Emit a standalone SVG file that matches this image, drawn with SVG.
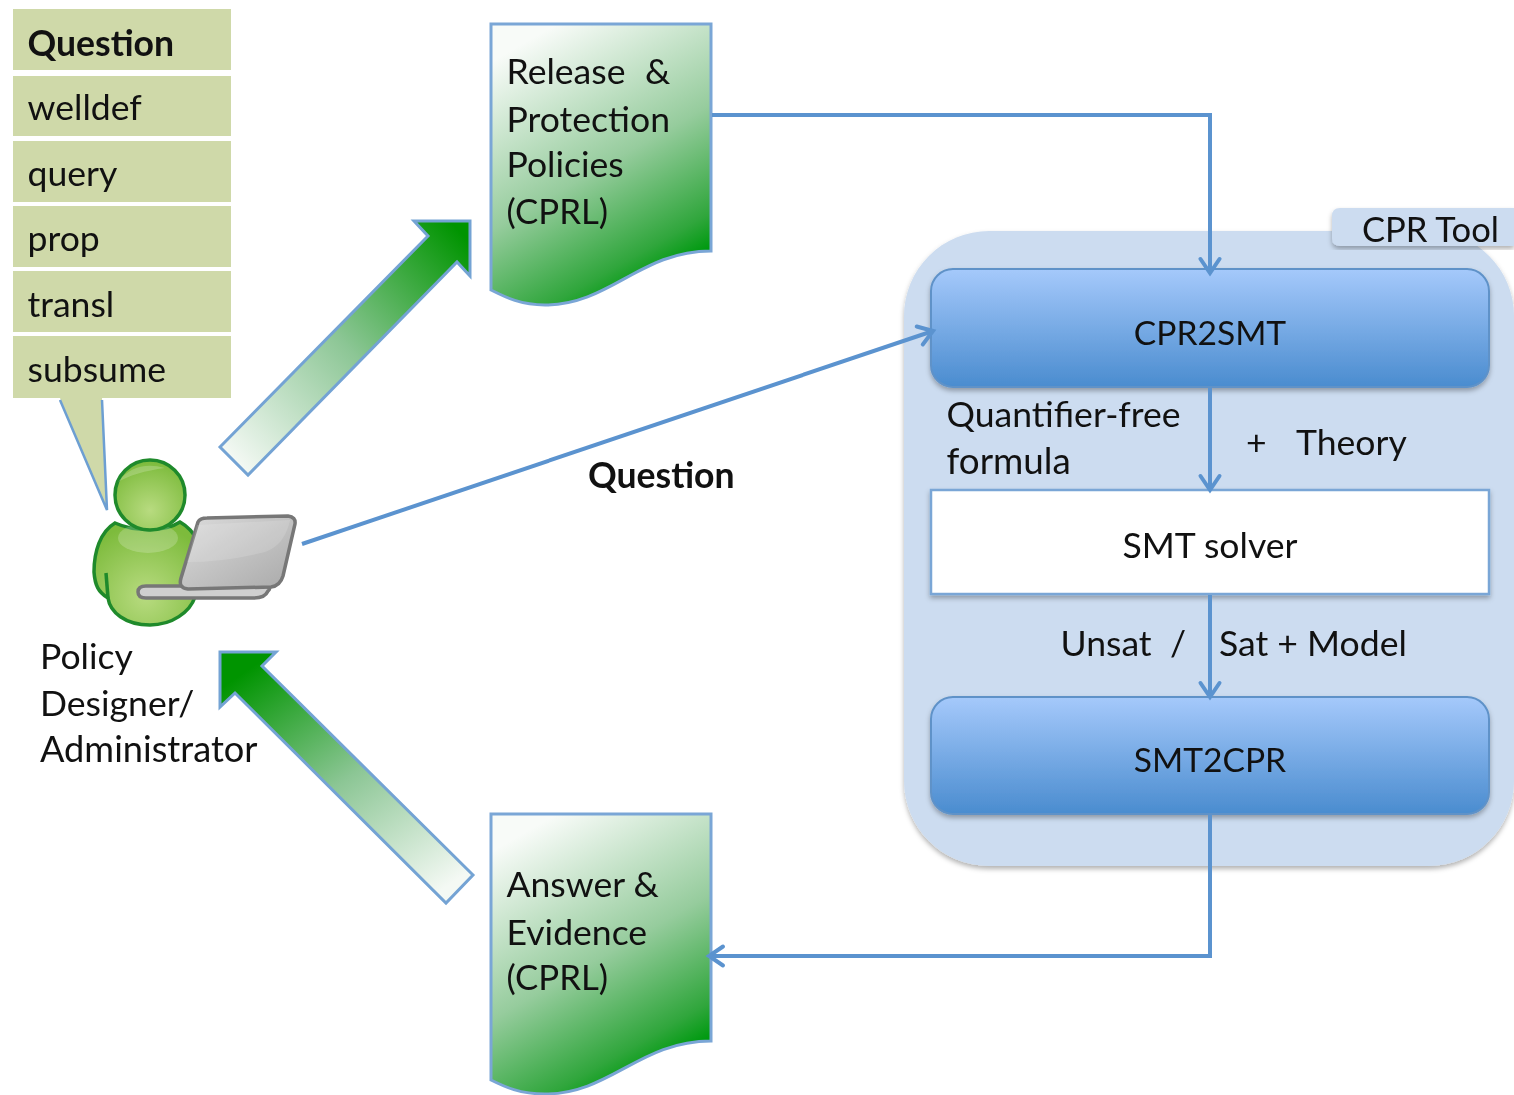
<svg xmlns="http://www.w3.org/2000/svg" width="1514" height="1095" viewBox="0 0 1514 1095">
<style>
text{font-family:"Lato","Open Sans","Liberation Sans",sans-serif;font-size:35.6px;fill:#111}
.b{font-weight:700}
.m{text-anchor:middle}
.t{font-size:33.6px}
.c{font-size:34.8px}
.q{fill:#cfd9a9}
.doc{fill:url(#gd);stroke:#7aa6d6;stroke-width:3}
.ar{stroke:#5b93cf;stroke-width:4px;fill:none}
.big{stroke:#74a3d4;stroke-width:3}
.bl{fill:url(#gb);stroke:#5f92c8;stroke-width:2;filter:url(#sh)}
.gs{stroke:#1f8a2b;stroke-width:3.5}
</style>
<defs>
<linearGradient id="gd" x1=".3" y1="0" x2=".75" y2="1"><stop offset="0" stop-color="#f8fbf8"/><stop offset=".5" stop-color="#96cc9d"/><stop offset=".82" stop-color="#30a63c"/><stop offset=".92" stop-color="#009a10"/></linearGradient>
<linearGradient id="gb" x1="0" y1="0" x2="0" y2="1"><stop offset="0" stop-color="#a5c9fb"/><stop offset="1" stop-color="#4a8ccf"/></linearGradient>
<linearGradient id="ga1" gradientUnits="userSpaceOnUse" x1="235" y1="462" x2="468" y2="240"><stop offset="0" stop-color="#f4f9f4"/><stop offset=".5" stop-color="#8cc695"/><stop offset="1" stop-color="#009400"/></linearGradient>
<linearGradient id="ga2" gradientUnits="userSpaceOnUse" x1="420" y1="905" x2="255" y2="665"><stop offset="0" stop-color="#f4f9f4"/><stop offset=".5" stop-color="#8cc695"/><stop offset="1" stop-color="#009400"/></linearGradient>
<radialGradient id="gg" cx=".5" cy=".72" r=".7"><stop offset="0" stop-color="#b8db80"/><stop offset="1" stop-color="#7dbb3c"/></radialGradient>
<linearGradient id="gl" x1="0" y1="0" x2="1" y2="1"><stop offset="0" stop-color="#dcdcdc"/><stop offset="1" stop-color="#a9a9a9"/></linearGradient>
<filter id="sh" x="-5%" y="-5%" width="110%" height="115%"><feDropShadow dx="0" dy="3" stdDeviation="2.5" flood-color="#000" flood-opacity=".3"/></filter>
<filter id="soft" x="0" y="0" width="100%" height="100%" color-interpolation-filters="sRGB"><feGaussianBlur stdDeviation=".7"/></filter>
<marker id="ah" markerUnits="userSpaceOnUse" markerWidth="26" markerHeight="26" refX="20" refY="13" orient="auto"><path d="M6 3.5L20 13L6 22.5" fill="none" stroke="#5b93cf" stroke-width="4" stroke-linecap="round"/></marker>
</defs>
<g filter="url(#soft)">
<rect width="1514" height="1095" fill="#fff"/>
<g id="tool-panel">
<rect x="904" y="231" width="610" height="635" rx="85" fill="#ccdcf0" filter="url(#sh)"/>
</g>
<g id="tool-tab">
<path d="M1514 208H1340Q1332 208 1332 216V238Q1332 246 1340 246H1514Z" fill="#ccdcf0" filter="url(#sh)"/>
<text x="1362" y="242" style="font-size:34.6px">CPR Tool</text>
</g>

<g id="question-list">
<path d="M60 398L107 510L102 398Z" class="q"/>
<path d="M60 400L107 510L102 400" fill="none" stroke="#6d9fd2" stroke-width="2.5"/>
<rect class="q" x="13" y="9" width="218" height="61"/>
<rect class="q" x="13" y="76" width="218" height="60"/>
<rect class="q" x="13" y="141" width="218" height="61"/>
<rect class="q" x="13" y="206" width="218" height="61"/>
<rect class="q" x="13" y="271" width="218" height="61"/>
<rect class="q" x="13" y="336" width="218" height="62"/>
<text class="b" x="27.5" y="56">Question</text>
<text x="27.5" y="120">welldef</text>
<text x="27.5" y="186">query</text>
<text x="27.5" y="251">prop</text>
<text x="27.5" y="317">transl</text>
<text x="27.5" y="382">subsume</text>
</g>

<g id="user">
<path class="gs" d="M115 523C100 532 94 552 94 572C95 585 98 592 108 598C110 612 125 625 150 625C172 625 190 612 195 597L197 540C193 532 187 526 180 522C165 532 135 532 115 523Z" fill="url(#gg)"/>
<path class="gs" d="M106 573L108 598" fill="none"/>
<ellipse cx="148" cy="538" rx="30" ry="15" fill="#fff" opacity=".2"/>
<circle class="gs" cx="150" cy="495" r="35" fill="url(#gg)"/>
<path d="M118 482Q135 460 165 468Q135 472 118 482Z" fill="#fff" opacity=".2"/>
<path d="M146 586H266Q272 588 268 591Q265 598 254 598H146Q138 598 138 592Q138 586 146 586Z" fill="#cfcfcf" stroke="#777" stroke-width="3.5"/>
<path d="M198 522Q200 518 207 518L288 516Q296 517 295 524L283 576Q280 586 271 587L188 589Q178 588 181 578Z" fill="url(#gl)" stroke="#777" stroke-width="3.5"/>
<path d="M197 525L290 520Q285 545 265 552Q225 562 187 562Z" fill="#fff" opacity=".14"/>
</g>
<text x="40" y="669">Policy</text>
<text x="40" y="716">Designer/</text>
<text x="40" y="762" style="font-size:36.2px">Administrator</text>

<g id="arrow-up"><path class="big" fill="url(#ga1)" d="M220 447L428 236L414 221H470V276L457 262L248 475Z"/></g>
<g id="arrow-down"><path class="big" fill="url(#ga2)" d="M473 875L262 666L276 652H220V707L235 693L446 903Z"/></g>

<g id="doc-policies">
<path class="doc" d="M491 24H711V251C640 251 610 305 545 305C520 305 505 297 491 290Z"/>
<text x="506.5" y="84">Release<tspan x="645">&amp;</tspan></text>
<text x="506.5" y="132">Protection</text>
<text x="506.5" y="177">Policies</text>
<text class="c" x="506.5" y="224">(CPRL)</text>
</g>
<g id="doc-answer">
<path class="doc" d="M491 814H711V1041C640 1041 610 1094 545 1094C520 1094 505 1087 491 1080Z"/>
<text x="506.5" y="897">Answer &amp;</text>
<text x="506.5" y="945">Evidence</text>
<text class="c" x="506.5" y="990">(CPRL)</text>
</g>

<g id="cpr2smt"><rect class="bl" x="931" y="269" width="558" height="118" rx="22"/><text class="m t" x="1210" y="345">CPR2SMT</text></g>
<g id="smt-solver"><rect x="931" y="490" width="558" height="104" fill="#fff" stroke="#7aa6d6" stroke-width="2.5" filter="url(#sh)"/><text class="m" x="1210" y="558">SMT solver</text></g>
<g id="smt2cpr"><rect class="bl" x="931" y="697" width="558" height="117" rx="22"/><text class="m t" x="1210" y="772">SMT2CPR</text></g>

<g id="connectors">
<path class="ar" d="M712 115H1210V273" marker-end="url(#ah)"/>
<path class="ar" d="M302 544L933 331" marker-end="url(#ah)"/>
<path class="ar" d="M1210 388V490" marker-end="url(#ah)"/>
<path class="ar" d="M1210 595V697" marker-end="url(#ah)"/>
<path class="ar" d="M1210 815V956H709" marker-end="url(#ah)"/>
</g>

<g id="labels">
<text class="b" x="588" y="488">Question</text>
<text x="946.5" y="427">Quantifier-free</text>
<text x="946.5" y="474" style="font-size:36.8px">formula</text>
<text x="1246" y="455">+</text>
<text x="1296" y="455">Theory</text>
<text x="1060.5" y="656">Unsat</text>
<text x="1170" y="656">/</text>
<text x="1219" y="656">Sat + Model</text>
</g>
</g>
</svg>
